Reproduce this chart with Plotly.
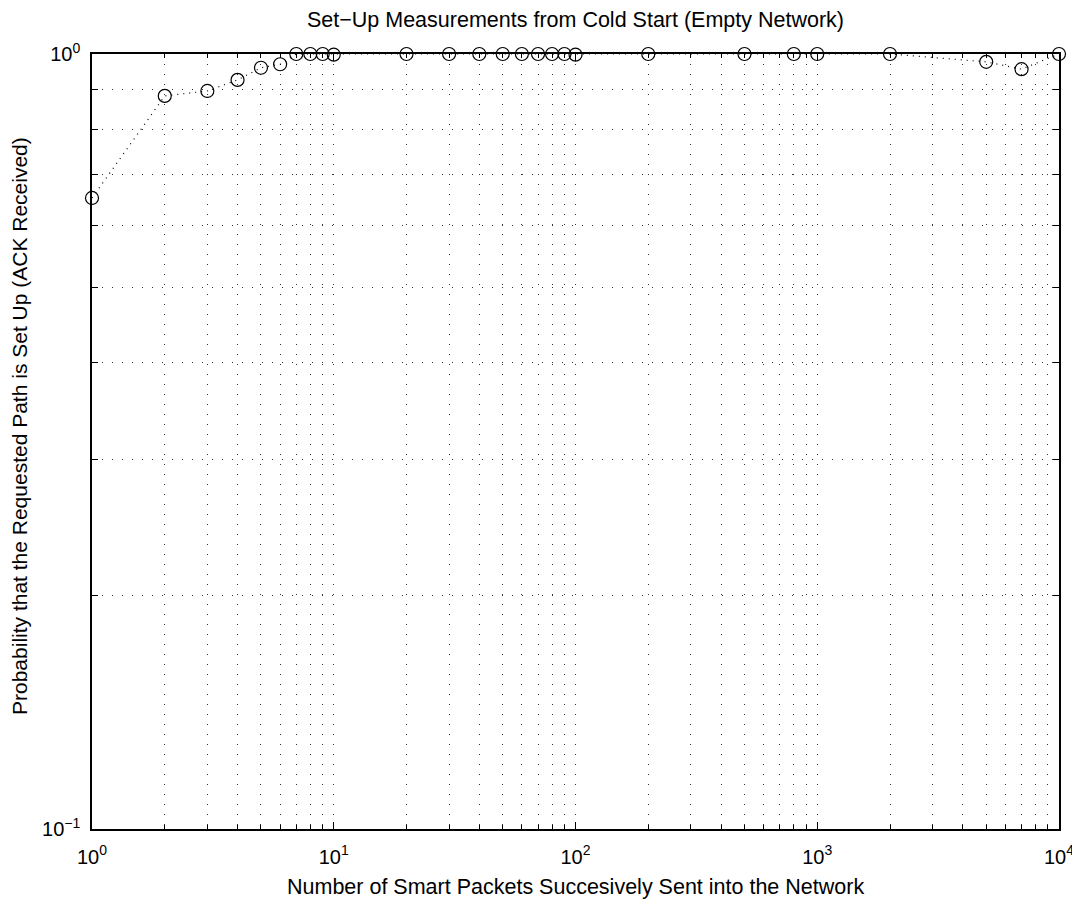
import plotly.graph_objects as go

packets = [1, 2, 3, 4, 5, 6, 7, 8, 9, 10, 20, 30, 40, 50, 60, 70, 80, 90, 100,
           200, 500, 800, 1000, 2000, 5000, 7000, 10000]
prob = [0.652, 0.883, 0.896, 0.926, 0.960, 0.970, 1.0, 1.0, 1.0, 0.998, 1.0, 1.0, 1.0, 1.0,
        1.0, 1.0, 1.0, 1.0, 0.998, 1.0, 1.0, 1.0, 1.0, 1.0, 0.977, 0.956, 1.0]

x_major = [1, 10, 100, 1000, 10000]
x_major_text = ["10<sup>0</sup>", "10<sup>1</sup>", "10<sup>2</sup>", "10<sup>3</sup>", "10<sup>4</sup>"]
x_minor = [m * d for d in [1, 10, 100, 1000] for m in range(2, 10)]
y_major = [0.1, 1]
y_major_text = ["10<sup>−1</sup>", "10<sup>0</sup>"]
y_minor = [0.2, 0.3, 0.4, 0.5, 0.6, 0.7, 0.8, 0.9]

FONT = "Liberation Sans, Arial, Helvetica, sans-serif"
DOT = "1px,9px"
GRIDC = "rgba(0,0,0,0.8)"

# page has an 8px body margin, so the figure is sized/offset to compensate
W, H = 1072, 895
ML, MT, MR, MB = 84, 46, 21, 74
PW, PH = W - ML - MR, H - MT - MB

fig = go.Figure()
fig.add_trace(go.Scatter(
    x=packets, y=prob, mode="lines+markers",
    line=dict(color="black", width=1.2, dash="1px,5px"),
    marker=dict(symbol="circle-open", size=13, color="black", line=dict(width=1.2, color="black")),
    showlegend=False, cliponaxis=False,
))

axis_common = dict(
    showline=True, linecolor="black", linewidth=1.5, mirror="allticks",
    ticks="inside", ticklen=7, tickcolor="black", tickwidth=1,
    showgrid=True, gridcolor=GRIDC, gridwidth=1, griddash=DOT,
    zeroline=False, automargin=False,
    tickfont=dict(family=FONT, size=20, color="black"),
)

fig.update_xaxes(
    type="log", range=[0, 4], tickmode="array", tickvals=x_major, ticktext=x_major_text,
    minor=dict(tickmode="array", tickvals=x_minor, ticks="inside", ticklen=4, tickcolor="black",
               showgrid=True, gridcolor=GRIDC, gridwidth=1, griddash=DOT),
    ticklabelstandoff=9,
    **axis_common,
)
fig.update_yaxes(
    type="log", range=[-1, 0], tickmode="array", tickvals=y_major, ticktext=y_major_text,
    minor=dict(tickmode="array", tickvals=y_minor, ticks="inside", ticklen=6, tickcolor="black",
               showgrid=True, gridcolor=GRIDC, gridwidth=1, griddash=DOT),
    ticklabelstandoff=6,
    **axis_common,
)

fig.add_annotation(
    text="Number of Smart Packets Succesively Sent into the Network",
    xref="paper", yref="paper", x=0.5, y=-58 / PH, xanchor="center", yanchor="middle",
    showarrow=False, font=dict(family=FONT, size=21.5, color="black"),
)
fig.add_annotation(
    text="Probability that the Requested Path is Set Up (ACK Received)",
    xref="paper", yref="paper", x=-73 / PW, y=0.52, xanchor="center", yanchor="middle",
    textangle=-90, showarrow=False, font=dict(family=FONT, size=21, color="black"),
)

fig.update_layout(
    width=W, height=H,
    margin=dict(l=ML, r=MR, t=MT, b=MB),
    paper_bgcolor="white", plot_bgcolor="white",
    title=dict(text="Set−Up Measurements from Cold Start (Empty Network)",
               font=dict(family=FONT, size=21.5, color="black"),
               x=0.5, xanchor="center", xref="paper", y=1 - 11 / H, yanchor="middle"),
    font=dict(family=FONT, color="black"),
)

fig.write_html("out.html")
